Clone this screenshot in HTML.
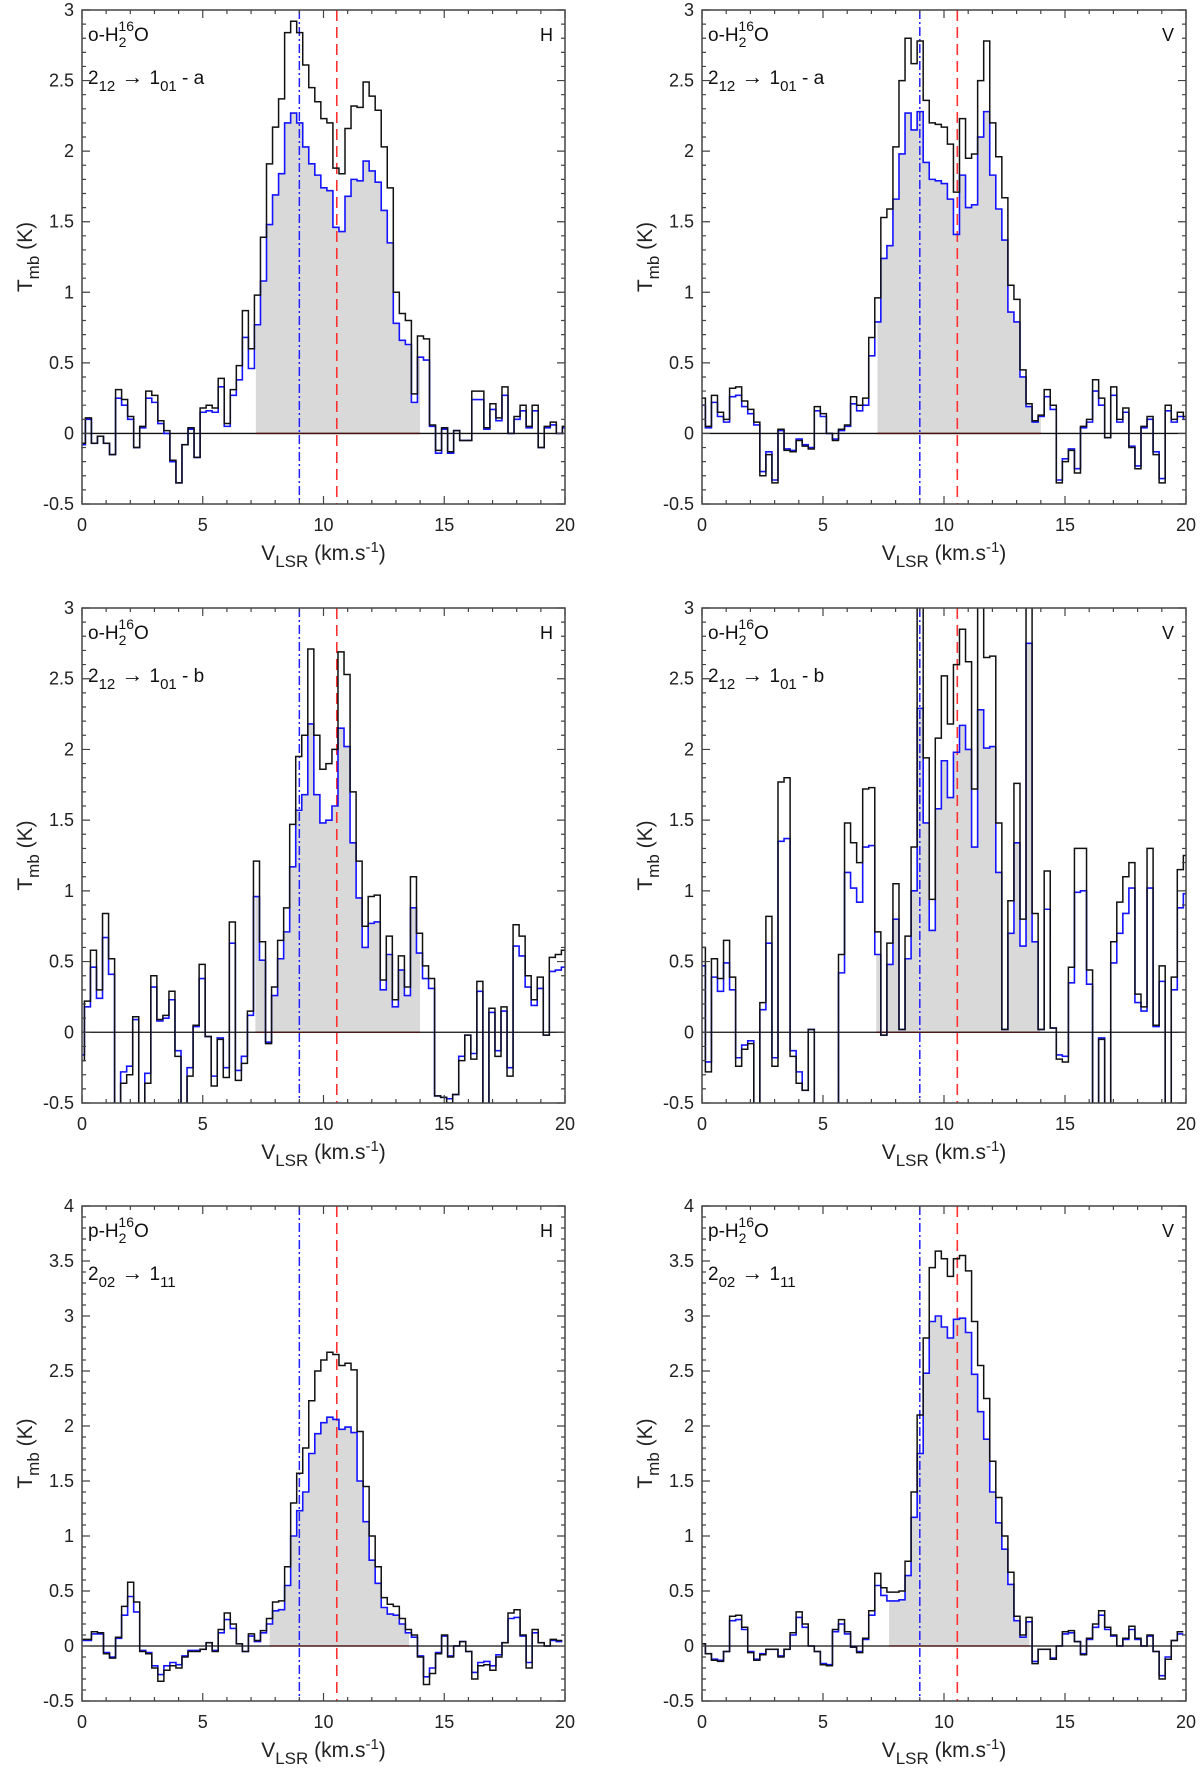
<!DOCTYPE html>
<html><head><meta charset="utf-8">
<style>
html,body{margin:0;padding:0;background:#fff;}
svg{display:block;font-family:"Liberation Sans",Arial,sans-serif;}
</style></head>
<body>
<svg id="fig" width="1200" height="1774" viewBox="0 0 1200 1774" xmlns="http://www.w3.org/2000/svg"></svg>
<script>
// ---- data (Tmb in K per channel; channels 0.25 km/s wide) ----
const chanWidth = 0.25;
const velStart = [-0.11, -0.11, -0.15, -0.11, -0.11, -0.11];
const blackP1 = [-0.07,0.11,-0.07,-0.02,-0.07,-0.15,0.31,0.24,0.12,-0.1,0.05,0.3,0.27,0.09,0.02,-0.19,-0.35,-0.08,0.04,-0.17,0.18,0.2,0.18,0.39,0.07,0.31,0.48,0.87,0.6,0.98,1.39,1.91,2.17,2.37,2.84,2.92,2.84,2.61,2.45,2.35,2.23,2.2,1.88,1.84,2.16,2.32,2.31,2.49,2.39,2.29,2.03,1.74,1.0,0.85,0.8,0.28,0.69,0.67,0.06,-0.12,0.04,-0.13,0.02,-0.05,-0.05,0.3,0.3,0.04,0.21,0.11,0.33,0.0,0.12,0.2,0.05,0.2,-0.1,0.05,0.08,0.0,0.05];
const blueP1 = [-0.08,0.1,-0.07,-0.02,-0.07,-0.15,0.25,0.2,0.1,-0.1,0.04,0.25,0.22,0.07,0.0,-0.2,-0.35,-0.08,0.03,-0.17,0.15,0.16,0.15,0.33,0.05,0.27,0.38,0.68,0.46,0.77,1.08,1.48,1.69,1.84,2.2,2.27,2.2,2.03,1.91,1.83,1.74,1.72,1.46,1.43,1.68,1.8,1.79,1.93,1.86,1.78,1.58,1.35,0.78,0.66,0.63,0.22,0.54,0.52,0.05,-0.14,0.03,-0.14,0.02,-0.05,-0.05,0.24,0.24,0.03,0.17,0.09,0.27,0.0,0.1,0.16,0.04,0.16,-0.1,0.04,0.06,0.0,0.04];
const blackP2 = [0.25,0.05,0.27,0.15,0.1,0.32,0.33,0.23,0.17,0.08,-0.3,-0.15,-0.35,0.03,-0.12,-0.13,-0.05,-0.09,-0.11,0.19,0.14,0.0,-0.05,0.03,0.06,0.26,0.2,0.25,0.68,0.96,1.53,1.59,2.03,2.5,2.8,2.62,2.78,2.36,2.2,2.19,2.17,2.05,1.71,2.23,1.95,1.98,2.5,2.78,2.2,1.96,1.67,1.05,0.95,0.45,0.21,0.09,0.13,0.31,0.2,-0.35,-0.2,-0.12,-0.28,0.05,0.1,0.38,0.25,-0.03,0.33,0.1,0.18,-0.1,-0.25,0.05,0.12,-0.15,-0.35,0.2,0.1,0.15,0.12];
const blueP2 = [0.2,0.04,0.22,0.12,0.08,0.26,0.27,0.19,0.14,0.06,-0.27,-0.13,-0.33,0.02,-0.11,-0.12,-0.04,-0.08,-0.1,0.16,0.12,0.0,-0.04,0.02,0.05,0.21,0.16,0.2,0.55,0.79,1.24,1.33,1.66,1.98,2.27,2.15,2.28,1.92,1.8,1.79,1.77,1.66,1.41,1.83,1.6,1.62,2.1,2.28,1.83,1.59,1.37,0.86,0.79,0.4,0.19,0.08,0.12,0.26,0.17,-0.33,-0.18,-0.11,-0.25,0.04,0.08,0.3,0.2,-0.03,0.27,0.08,0.15,-0.09,-0.23,0.04,0.1,-0.13,-0.32,0.16,0.08,0.12,0.1];
const blackP3 = [-0.2,0.22,0.58,0.3,0.84,0.52,-0.7,-0.36,-0.3,0.11,-0.8,-0.36,0.4,0.09,0.12,0.29,-0.17,-0.8,-0.31,0.05,0.48,-0.03,-0.38,-0.05,-0.32,0.78,-0.34,-0.22,0.15,1.21,0.64,-0.08,0.32,0.65,0.88,1.47,1.95,2.1,2.71,2.1,1.86,1.9,2.0,2.69,2.53,1.7,1.21,0.75,0.96,0.97,0.37,0.68,0.23,0.54,0.32,1.1,0.7,0.47,0.38,-0.45,-0.46,-0.5,-0.44,-0.2,-0.02,-0.19,0.36,-0.8,0.17,-0.17,0.18,-0.31,0.76,0.68,0.4,0.23,0.39,-0.02,0.53,0.55,0.58];
const blueP3 = [-0.16,0.18,0.46,0.24,0.67,0.41,-0.7,-0.28,-0.24,0.09,-0.8,-0.29,0.32,0.08,0.1,0.23,-0.13,-0.8,-0.25,0.04,0.38,-0.03,-0.31,-0.04,-0.25,0.63,-0.27,-0.17,0.12,0.96,0.51,-0.07,0.26,0.52,0.71,1.17,1.57,1.68,2.18,1.68,1.48,1.5,1.6,2.15,2.02,1.34,0.95,0.6,0.77,0.78,0.3,0.55,0.18,0.44,0.26,0.88,0.56,0.38,0.31,-0.45,-0.46,-0.47,-0.44,-0.17,-0.02,-0.15,0.29,-0.8,0.14,-0.13,0.15,-0.25,0.61,0.54,0.32,0.19,0.31,-0.02,0.43,0.44,0.46];
const blackP4 = [0.6,-0.28,0.52,0.38,0.65,0.39,-0.24,-0.12,-0.08,-1,0.21,0.82,-0.24,1.77,1.8,-0.17,-0.36,-0.41,0.02,-1,-1,-1,-1,0.55,1.48,1.34,1.2,1.72,1.73,0.71,-0.02,0.63,1.05,0.02,0.68,1.31,3.5,1.94,0.94,2.08,2.52,2.18,2.6,2.85,2.62,1.72,3.1,2.65,2.66,1.48,0.02,0.93,1.76,0.8,3.4,0.84,0.02,1.14,0.03,-0.19,-0.21,0.46,1.3,1.3,0.44,-1,-0.05,-1,0.64,0.92,1.1,1.2,0.27,0.18,1.3,0.05,0.47,-1,0.39,1.15,1.25];
const blueP4 = [0.47,-0.21,0.39,0.29,0.49,0.3,-0.18,-0.09,-0.06,-1,0.16,0.63,-0.18,1.35,1.37,-0.13,-0.28,-0.41,0.02,-1,-1,-1,-1,0.42,1.13,1.02,0.92,1.31,1.32,0.55,-0.02,0.48,0.8,0.02,0.52,1.0,2.29,1.48,0.72,1.58,1.92,1.66,1.98,2.17,2.0,1.31,2.28,2.01,2.02,1.13,0.02,0.7,1.34,0.61,2.75,0.64,0.02,0.87,0.03,-0.16,-0.17,0.35,0.99,1.0,0.34,-1,-0.04,-1,0.49,0.7,0.84,1.02,0.21,0.15,1.02,0.04,0.36,-1,0.3,0.88,0.98];
const blackP5 = [0.06,0.06,0.13,0.12,-0.07,-0.11,0.08,0.36,0.58,0.4,-0.05,-0.07,-0.2,-0.32,-0.22,-0.18,-0.2,-0.1,-0.05,-0.05,-0.03,0.03,-0.05,0.15,0.3,0.2,0.02,-0.05,0.11,0.05,0.14,0.25,0.4,0.41,0.72,1.3,1.57,1.8,2.23,2.5,2.6,2.67,2.65,2.55,2.57,2.51,1.95,1.45,1.0,0.72,0.44,0.38,0.36,0.25,0.15,0.1,-0.1,-0.35,-0.25,-0.07,0.1,-0.1,0.0,0.04,-0.05,-0.3,-0.18,-0.17,-0.22,-0.1,0.03,0.3,0.33,0.1,-0.2,0.15,0.03,0.0,0.06,0.05];
const blueP5 = [0.05,0.05,0.11,0.11,-0.06,-0.1,0.07,0.28,0.45,0.31,-0.04,-0.06,-0.18,-0.26,-0.18,-0.15,-0.17,-0.09,-0.04,-0.04,-0.03,0.03,-0.04,0.12,0.24,0.16,0.02,-0.05,0.09,0.04,0.12,0.2,0.32,0.33,0.55,1.0,1.23,1.4,1.75,1.93,2.03,2.08,2.06,1.97,1.99,1.94,1.5,1.13,0.78,0.57,0.35,0.29,0.28,0.2,0.12,0.08,-0.09,-0.28,-0.2,-0.06,0.09,-0.09,0.0,0.04,-0.05,-0.24,-0.15,-0.14,-0.18,-0.08,0.03,0.25,0.26,0.09,-0.15,0.12,0.03,0.0,0.05,0.04];
const blackP6 = [0.02,-0.07,-0.13,-0.14,-0.05,0.27,0.28,0.17,-0.06,-0.13,-0.08,-0.03,-0.03,-0.1,-0.03,0.12,0.31,0.2,0.0,-0.05,-0.17,-0.18,0.15,0.24,0.13,-0.01,-0.06,0.07,0.32,0.66,0.53,0.49,0.49,0.5,0.77,1.4,2.1,2.8,3.44,3.59,3.52,3.36,3.52,3.55,3.41,2.95,2.55,2.25,1.68,1.35,1.0,0.67,0.27,0.1,0.26,-0.16,-0.03,-0.03,-0.12,0.0,0.13,0.14,0.04,-0.08,0.07,0.2,0.32,0.17,0.1,0.0,0.07,0.18,0.07,0.0,0.1,-0.05,-0.3,-0.12,0.05,0.13];
const blueP6 = [0.02,-0.07,-0.12,-0.13,-0.05,0.23,0.24,0.15,-0.05,-0.12,-0.07,-0.03,-0.03,-0.09,-0.03,0.1,0.26,0.17,0.0,-0.05,-0.16,-0.17,0.13,0.2,0.11,-0.01,-0.05,0.06,0.28,0.55,0.46,0.41,0.41,0.42,0.64,1.17,1.75,2.48,2.95,3.0,2.9,2.8,2.97,2.98,2.85,2.47,2.13,1.88,1.4,1.12,0.88,0.56,0.23,0.08,0.22,-0.14,-0.03,-0.03,-0.11,0.0,0.11,0.12,0.04,-0.07,0.06,0.17,0.28,0.15,0.09,0.0,0.06,0.15,0.06,0.0,0.09,-0.05,-0.27,-0.1,0.05,0.11];
const fillRange = [[7.2,14.0],[7.25,14.0],[7.18,14.0],[7.2,13.97],[7.77,13.54],[7.73,13.53]];
const blueLineVel = 9.0;
const redLineVel = 10.55;
const yTickLabelsA = ["-0.5","0","0.5","1","1.5","2","2.5","3"];
const yTickLabelsB = ["-0.5","0","0.5","1","1.5","2","2.5","3","3.5","4"];
const xTickLabels = ["0","5","10","15","20"];
const speciesLabels = ["o-H","o-H","o-H","o-H","p-H","p-H"];
const transLabels = [["12","01"," - a"],["12","01"," - a"],["12","01"," - b"],["12","01"," - b"],["02","11",""],["02","11",""]];
const polLabels = ["H","V","H","V","H","V"];

const blackSeries = [blackP1,blackP2,blackP3,blackP4,blackP5,blackP6];
const blueSeries = [blueP1,blueP2,blueP3,blueP4,blueP5,blueP6];
const panelLayout = [
  {L:82,R:565,T:10,B:504,ymin:-0.5,ymax:3},
  {L:702,R:1186,T:10,B:504,ymin:-0.5,ymax:3},
  {L:82,R:565,T:608,B:1103,ymin:-0.5,ymax:3},
  {L:702,R:1186,T:608,B:1103,ymin:-0.5,ymax:3},
  {L:82,R:565,T:1206,B:1701,ymin:-0.5,ymax:4},
  {L:702,R:1186,T:1206,B:1701,ymin:-0.5,ymax:4}
];

const NS="http://www.w3.org/2000/svg";
const svg=document.getElementById('fig');
function mk(tag,attrs,parent){const e=document.createElementNS(NS,tag);for(const k in attrs)e.setAttribute(k,attrs[k]);(parent||svg).appendChild(e);return e;}

panelLayout.forEach((P,pi)=>{
  const g=mk('g',{});
  
  
  const xs=v=>P.L+(v-0)/(20-0)*(P.R-P.L);
  const ys=t=>P.B-(t-P.ymin)/(P.ymax-P.ymin)*(P.B-P.T);
  const cid='clip'+pi;
  const cp=mk('clipPath',{id:cid},g);
  mk('rect',{x:P.L,y:P.T,width:P.R-P.L,height:P.B-P.T},cp);
  const plot=mk('g',{'clip-path':'url(#'+cid+')'},g);
  const v0=velStart[pi], bl=blueSeries[pi], bk=blackSeries[pi], fr=fillRange[pi];
  let fd='';
  bl.forEach((t,i)=>{
    const a=Math.max(v0+i*chanWidth,fr[0]), b=Math.min(v0+(i+1)*chanWidth,fr[1]);
    if(b>a && t>0){fd+=`M${xs(a)},${ys(0)}V${ys(t)}H${xs(b)}V${ys(0)}Z`;}
  });
  const fill=mk('path',{d:fd,fill:'#d9d9d9',stroke:'none'},plot);
  
  
  const z=mk('line',{x1:P.L,x2:P.R,y1:ys(0),y2:ys(0),stroke:'#111','stroke-width':1.3},plot);
  
  
  mk('line',{x1:xs(fr[0]),x2:xs(fr[1]),y1:ys(0),y2:ys(0),stroke:'#4a1010','stroke-width':1.3},plot);
  const vb=mk('line',{x1:xs(blueLineVel),x2:xs(blueLineVel),y1:P.T,y2:P.B,stroke:'#2020ff','stroke-width':1.5,'stroke-dasharray':'9,3,2,3'},plot);
  
  
  const vr=mk('line',{x1:xs(redLineVel),x2:xs(redLineVel),y1:P.T,y2:P.B,stroke:'#ff3030','stroke-width':1.6,'stroke-dasharray':'11,6'},plot);
  
  
  function stepPath(arr){
    let d='';
    arr.forEach((t,i)=>{const a=xs(v0+i*chanWidth),b=xs(v0+(i+1)*chanWidth),y=ys(t);d+=(i===0?`M${a},${y}`:`V${y}`)+`H${b}`;});
    return d;
  }
  const pb=mk('path',{d:stepPath(bl),fill:'none',stroke:'#1414ff','stroke-width':1.6},plot);
  
  
  const pk=mk('path',{d:stepPath(bk),fill:'none',stroke:'#111','stroke-width':1.5},plot);
  
  
  const fr2=mk('rect',{x:P.L,y:P.T,width:P.R-P.L,height:P.B-P.T,fill:'none',stroke:'#444','stroke-width':1.5},g);
  
  
  let td='';
  for(let v=0;v<=20;v++){const x=xs(v),len=(v%5===0)?8:4;td+=`M${x},${P.B}v${-len}M${x},${P.T}v${len}`;}
  const nMinor=Math.round((P.ymax-P.ymin)*10);
  for(let k=0;k<=nMinor;k++){const t=P.ymin+k*0.1,y=ys(t),len=(k%5===0)?8:4;td+=`M${P.L},${y}h${len}M${P.R},${y}h${-len}`;}
  mk('path',{d:td,stroke:'#444','stroke-width':1.2,fill:'none'},g);
  const ylab=P.ymax>3?yTickLabelsB:yTickLabelsA;
  ylab.forEach((s,k)=>{
    const t=mk('text',{x:P.L-8,y:ys(P.ymin+k*0.5)+6,'text-anchor':'end','font-size':18,fill:'#222'},g);
    t.textContent=s;
    
    
  });
  xTickLabels.forEach((s,k)=>{
    const t=mk('text',{x:xs(k*5),y:P.B+27,'text-anchor':'middle','font-size':18,fill:'#222'},g);
    t.textContent=s;
    
    
  });
  const xt=mk('text',{x:(P.L+P.R)/2,y:P.B+56,'text-anchor':'middle','font-size':21,fill:'#222'},g);
  xt.innerHTML='V<tspan dy="7" font-size="17">LSR</tspan><tspan dy="-7"> (km.s</tspan><tspan dy="-8" font-size="15">-1</tspan><tspan dy="8">)</tspan>';
  
  
  const cy=(P.T+P.B)/2;
  const yt=mk('text',{x:0,y:0,'text-anchor':'middle','font-size':21,fill:'#222',transform:`translate(${P.L-50},${cy}) rotate(-90)`},g);
  yt.innerHTML='T<tspan dy="7" font-size="17">mb</tspan><tspan dy="-7"> (K)</tspan>';
  
  
  const sp=mk('text',{x:P.L+6,y:P.T+31,'font-size':19,fill:'#111'},g);
  sp.innerHTML=speciesLabels[pi]+'<tspan dy="6" font-size="14">2</tspan><tspan dx="-8" dy="-16" font-size="14">16</tspan><tspan dy="10">O</tspan>';
  
  
  const tl=transLabels[pi];
  const tr=mk('text',{x:P.L+6,y:P.T+74,'font-size':19,fill:'#111'},g);
  tr.innerHTML='2<tspan dy="7" font-size="15">'+tl[0]+'</tspan><tspan dy="-7" font-size="22"> \u2192 </tspan><tspan>1</tspan><tspan dy="7" font-size="15">'+tl[1]+'</tspan><tspan dy="-7">'+tl[2]+'</tspan>';
  
  
  const pl=mk('text',{x:P.R-12,y:P.T+31,'text-anchor':'end','font-size':18,fill:'#111'},g);
  pl.textContent=polLabels[pi];
  
  
});
</script>
</body></html>
